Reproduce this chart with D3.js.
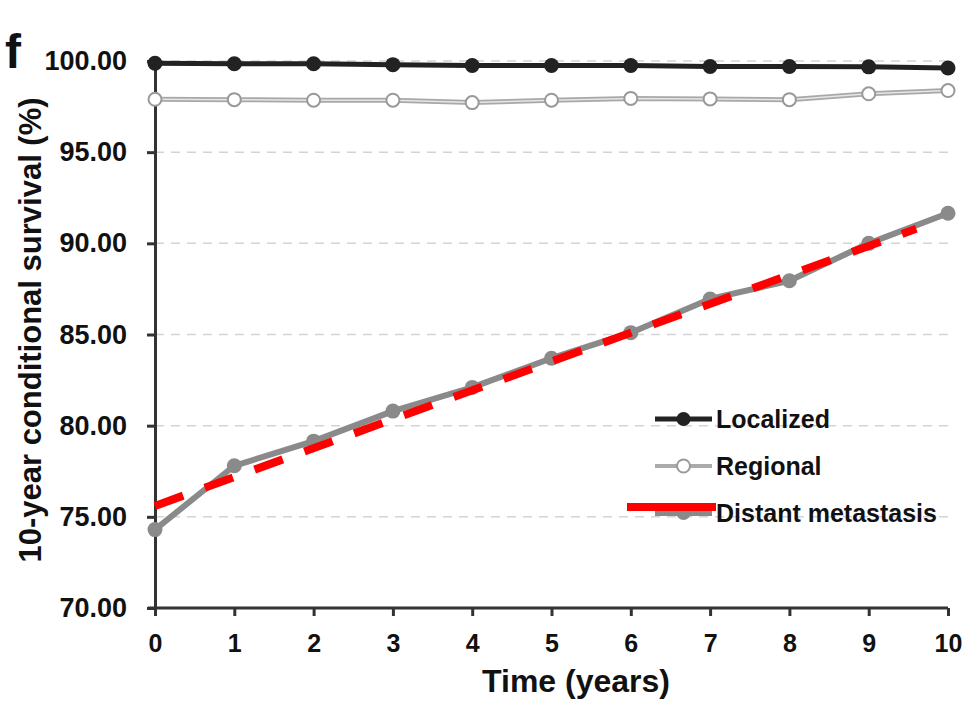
<!DOCTYPE html>
<html>
<head>
<meta charset="utf-8">
<script src="https://cdn.jsdelivr.net/npm/d3@7"></script>
<style>
  body { margin: 0; background: #fff; }
  svg text { font-family: "Liberation Sans", Arial, sans-serif; font-weight: bold; fill: #111; }
</style>
</head>
<body>
<svg id="chart" width="980" height="725"></svg>
<script>

//
// DATA
//

const years = [0, 1, 2, 3, 4, 5, 6, 7, 8, 9, 10];
const localized = [99.88, 99.85, 99.85, 99.8, 99.75, 99.75, 99.75, 99.7, 99.7, 99.68, 99.62];
const regional = [97.9, 97.88, 97.85, 97.85, 97.72, 97.85, 97.95, 97.92, 97.88, 98.2, 98.38];
const distant = [74.3, 77.8, 79.15, 80.8, 82.1, 83.7, 85.1, 86.95, 87.95, 90.0, 91.65];
const trend = [[0, 75.6], [9.6, 90.8]];
const yTicks = [70, 75, 80, 85, 90, 95, 100];
const legendLabels = ['Localized', 'Regional', 'Distant metastasis'];

//
// CHART
//

const svg = d3.select('#chart');
const margin = {top: 61, right: 32, bottom: 117, left: 155};
const width = 980;
const height = 725;

const x = d3.scaleLinear()
    .domain([0, 10])
    .range([margin.left, width - margin.right]);
const y = d3.scaleLinear()
    .domain([70, 100])
    .range([height - margin.bottom, margin.top]);

// grid lines
svg.append('g')
    .selectAll('line')
    .data(yTicks.filter(d => d > 70))
    .join('line')
        .attr('x1', margin.left)
        .attr('x2', width - margin.right)
        .attr('y1', d => y(d))
        .attr('y2', d => y(d))
        .attr('stroke', '#d4d4d4')
        .attr('stroke-width', 1.5)
        .attr('stroke-dasharray', '9,7');

// axes
const yAxis = svg.append('g')
    .attr('transform', `translate(${margin.left},0)`)
    .call(d3.axisLeft(y).tickValues(yTicks).tickFormat(d3.format('.2f')).tickSize(8).tickSizeOuter(0).tickPadding(20));
const xAxis = svg.append('g')
    .attr('transform', `translate(0,${y(70)})`)
    .call(d3.axisBottom(x).tickValues(years).tickSize(8).tickSizeOuter(0).tickPadding(18));

[yAxis, xAxis].forEach(ax => {
    ax.select('.domain').attr('stroke', '#333').attr('stroke-width', 3);
    ax.selectAll('.tick line').attr('stroke', '#333').attr('stroke-width', 3);
    ax.selectAll('.tick text')
        .attr('font-family', '"Liberation Sans", Arial, sans-serif')
        .attr('font-weight', 'bold')
        .attr('fill', '#111');
});
yAxis.selectAll('.tick text').attr('font-size', 27);
xAxis.selectAll('.tick text').attr('font-size', 25);
// extend bottom axis a little left of the y axis like the original
xAxis.select('.domain').attr('d', `M${margin.left - 7},0H${width - margin.right}`);

// lines
const line = d3.line()
    .x((d, i) => x(years[i]))
    .y(d => y(d));

// distant metastasis
svg.append('path')
    .datum(distant)
        .attr('fill', 'none')
        .attr('stroke', '#8a8a8a')
        .attr('stroke-width', 6)
        .attr('stroke-linejoin', 'round')
        .attr('d', line);
svg.append('g')
    .selectAll('circle')
    .data(distant)
    .join('circle')
        .attr('cx', (d, i) => x(years[i]))
        .attr('cy', d => y(d))
        .attr('r', 7.5)
        .attr('fill', '#8a8a8a');

// regional (double line look)
svg.append('path')
    .datum(regional)
        .attr('fill', 'none')
        .attr('stroke', '#a8a8a8')
        .attr('stroke-width', 5)
        .attr('d', line);
svg.append('path')
    .datum(regional)
        .attr('fill', 'none')
        .attr('stroke', '#e6e6e6')
        .attr('stroke-width', 1.5)
        .attr('d', line);
svg.append('g')
    .selectAll('circle')
    .data(regional)
    .join('circle')
        .attr('cx', (d, i) => x(years[i]))
        .attr('cy', d => y(d))
        .attr('r', 6.5)
        .attr('fill', '#fff')
        .attr('stroke', '#999')
        .attr('stroke-width', 2);

// localized
svg.append('path')
    .datum(localized)
        .attr('fill', 'none')
        .attr('stroke', '#222')
        .attr('stroke-width', 5)
        .attr('d', line);
svg.append('g')
    .selectAll('circle')
    .data(localized)
    .join('circle')
        .attr('cx', (d, i) => x(years[i]))
        .attr('cy', d => y(d))
        .attr('r', 7.5)
        .attr('fill', '#222');

// red dashed trend line
svg.append('line')
    .attr('x1', x(trend[0][0]))
    .attr('y1', y(trend[0][1]))
    .attr('x2', x(trend[1][0]))
    .attr('y2', y(trend[1][1]))
    .attr('stroke', '#ff0000')
    .attr('stroke-width', 8)
    .attr('stroke-dasharray', '30,23');

//
// LEGEND
//

const legendStyles = [
    {stroke: '#222', fill: '#222', r: 7, w: 5},
    {stroke: '#aaa', fill: '#fff', r: 6.5, w: 4},
    {stroke: '#8a8a8a', fill: '#8a8a8a', r: 7, w: 6}
];
const legend = svg.append('g').attr('transform', 'translate(655,419)');
legendLabels.forEach((label, i) => {
    const g = legend.append('g').attr('transform', `translate(0,${i * 47})`);
    const s = legendStyles[i];
    g.append('line')
        .attr('x1', 0).attr('x2', 57)
        .attr('stroke', s.stroke)
        .attr('stroke-width', s.w);
    g.append('circle')
        .attr('cx', 28.5).attr('r', s.r)
        .attr('fill', s.fill)
        .attr('stroke', i === 1 ? '#999' : 'none')
        .attr('stroke-width', 2);
    g.append('text')
        .attr('x', 61)
        .attr('dy', '0.36em')
        .attr('font-size', 25)
        .text(label);
});
// red legend sample for the trend
legend.append('line')
    .attr('x1', -28).attr('x2', 61)
    .attr('y1', 88).attr('y2', 88)
    .attr('stroke', '#ff0000')
    .attr('stroke-width', 8);

//
// TITLES
//

svg.append('text')
    .attr('x', 576)
    .attr('y', 692)
    .attr('text-anchor', 'middle')
    .attr('font-size', 32)
    .text('Time (years)');

svg.append('text')
    .attr('transform', 'translate(41,330) rotate(-90)')
    .attr('text-anchor', 'middle')
    .attr('font-size', 31)
    .text('10-year conditional survival (%)');

svg.append('text')
    .attr('x', 5)
    .attr('y', 68)
    .attr('font-size', 48)
    .text('f');

</script>
</body>
</html>
